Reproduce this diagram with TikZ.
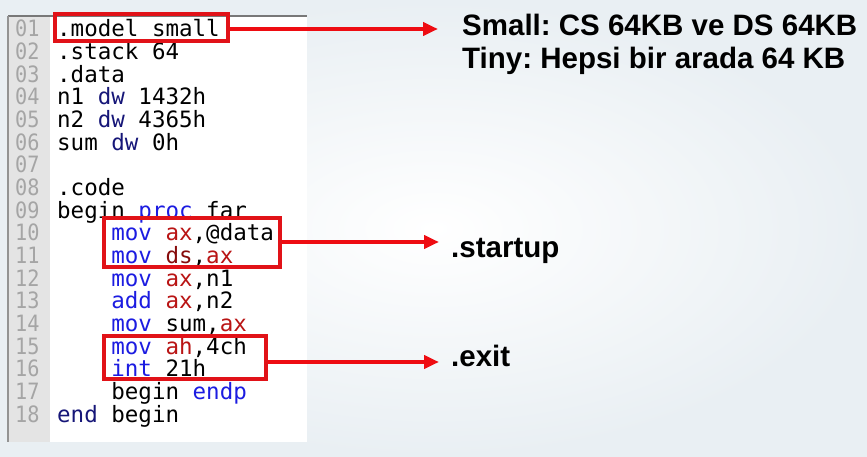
\documentclass[tikz,border=0pt]{standalone}
\usepackage{fontspec}
\usepackage{graphicx}
\setmonofont{DejaVu Sans Mono}
\newfontfamily\mylabfont{Liberation Sans}
\usetikzlibrary{arrows.meta}
\frenchspacing
\definecolor{bgouter}{RGB}{233,239,243}
\definecolor{gutter}{RGB}{228,228,228}
\definecolor{panelline}{RGB}{120,120,120}
\definecolor{lngray}{RGB}{165,165,165}
\definecolor{kwblue}{RGB}{28,28,225}
\definecolor{kwnavy}{RGB}{22,22,120}
\definecolor{regred}{RGB}{185,20,20}
\definecolor{dsred}{RGB}{135,12,12}
\definecolor{boxred}{RGB}{225,18,24}
\definecolor{arrred}{RGB}{238,12,18}
\newcommand\mycodefont{\ttfamily\fontsize{22.5}{22.65}\selectfont}
\newcommand\kw[1]{{\color{kwblue}#1}}
\newcommand\kn[1]{{\color{kwnavy}#1}}
\newcommand\rg[1]{{\color{regred}#1}}
\newcommand\rd[1]{{\color{dsred}#1}}
\begin{document}
\begin{tikzpicture}[x=1pt,y=-1pt,
  codetxt/.style={anchor=base west, inner sep=0pt, font=\mycodefont, text=black},
  lnum/.style={anchor=base west, inner sep=0pt, font=\mycodefont, text=lngray},
  redbox/.style={draw=boxred, line width=3.5pt, inner sep=0pt, fill=none},
  redarrow/.style={draw=arrred, line width=4pt, -{Triangle[length=15pt,width=13pt]}},
  lbl/.style={anchor=base west, inner sep=0pt, font=\mylabfont\bfseries\fontsize{29.5}{33}\selectfont, text=black}]
\useasboundingbox (0,0) rectangle (867,457);
\shade[inner color=white, outer color=bgouter] (0,0) rectangle (867,457);
% code panel
\fill[white] (8,16) rectangle (307,442);
\fill[gutter] (8,16) rectangle (50,442);
\draw[panelline, line width=2pt] (8,16) -- (307,16);
\draw[panelline!80, line width=1.5pt] (8,16) -- (8,442);
% line numbers
\foreach \n [count=\i from 0] in {01,02,03,04,05,06,07,08,09,10,11,12,13,14,15,16,17,18}
  \node[lnum] (ln\n) at (15, 37+\i*22.65) {\scalebox{0.9}[1]{\n}};
% code
\node[codetxt] (c01) at (57, 37+0*22.65) {.model small};
\node[codetxt] (c02) at (57, 37+1*22.65) {.stack 64};
\node[codetxt] (c03) at (57, 37+2*22.65) {.data};
\node[codetxt] (c04) at (57, 37+3*22.65) {n1 \kn{dw} 1432h};
\node[codetxt] (c05) at (57, 37+4*22.65) {n2 \kn{dw} 4365h};
\node[codetxt] (c06) at (57, 37+5*22.65) {sum \kn{dw} 0h};
\node[codetxt] (c08) at (57, 37+7*22.65) {.code};
\node[codetxt] (c09) at (57, 37+8*22.65) {begin \kw{proc} far};
\node[codetxt] (c10) at (111.2, 37+9*22.65) {\kw{mov} \rg{ax},@data};
\node[codetxt] (c11) at (111.2, 37+10*22.65) {\kw{mov} \rd{ds},\rg{ax}};
\node[codetxt] (c12) at (111.2, 37+11*22.65) {\kw{mov} \rg{ax},n1};
\node[codetxt] (c13) at (111.2, 37+12*22.65) {\kw{add} \rg{ax},n2};
\node[codetxt] (c14) at (111.2, 37+13*22.65) {\kw{mov} sum,\rg{ax}};
\node[codetxt] (c15) at (111.2, 37+14*22.65) {\kw{mov} \rg{ah},4ch};
\node[codetxt] (c16) at (111.2, 37+15*22.65) {\kw{int} 21h};
\node[codetxt] (c17) at (111.2, 37+16*22.65) {begin \kw{endp}};
\node[codetxt] (c18) at (57, 37+17*22.65) {\kn{end} begin};
% red boxes
\node[redbox, minimum width=173pt, minimum height=27pt] (b1) at (141.5,27.5) {};
\node[redbox, minimum width=176pt, minimum height=49pt] (b2) at (192,242.5) {};
\node[redbox, minimum width=162pt, minimum height=43pt] (b3) at (185,357.5) {};
% labels
\node[lbl] (l1a) at (462,36) {Small: CS 64KB ve DS 64KB};
\node[lbl] (l1b) at (462,69) {Tiny: Hepsi bir arada 64 KB};
\node[lbl] (l2) at (451,257) {.startup};
\node[lbl] (l3) at (451,366) {.exit};
% arrows
\coordinate (t1) at (438,29);
\coordinate (t2) at (439,242);
\coordinate (t3) at (439,362);
\draw[redarrow] (b1.east |- t1) -- (t1);
\draw[redarrow] (b2.east |- t2) -- (t2);
\draw[redarrow] (b3.east |- t3) -- (t3);
\end{tikzpicture}
\end{document}
